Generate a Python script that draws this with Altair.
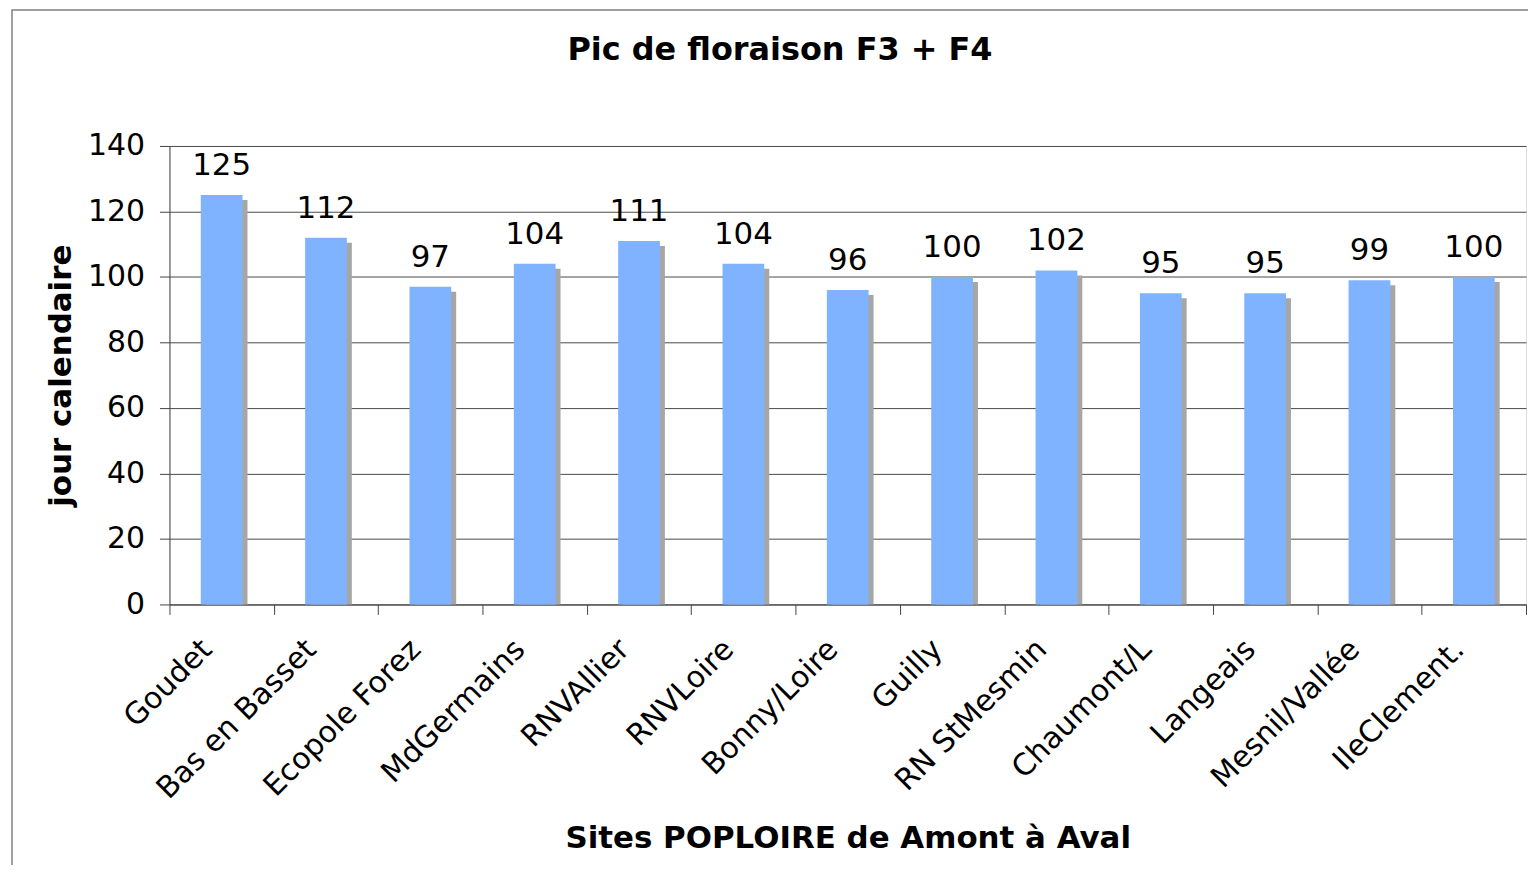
import altair as alt
import pandas as pd

sites = ["Goudet", "Bas en Basset", "Ecopole Forez", "MdGermains", "RNVAllier",
         "RNVLoire", "Bonny/Loire", "Guilly", "RN StMesmin", "Chaumont/L",
         "Langeais", "Mesnil/Vallée", "IleClement."]
jours = [125, 112, 97, 104, 111, 104, 96, 100, 102, 95, 95, 99, 100]
y_ticks = [0, 20, 40, 60, 80, 100, 120, 140]

df = pd.DataFrame({"site": sites, "jour": jours})

FONT = "DejaVu Sans"

x_enc = alt.X(
    "site:N", sort=None, title="Sites POPLOIRE de Amont à Aval",
    scale=alt.Scale(paddingInner=0, paddingOuter=0),
    axis=alt.Axis(labelAngle=-45, labelAlign="right", labelBaseline="middle",
                  labelFontSize=30, labelPadding=30, labelOffset=-15, labelLimit=0,
                  labelFont=FONT, labelColor="black",
                  labelOverlap=False, tickBand="extent", tickSize=10, tickColor="#444",
                  domainColor="#444", grid=False,
                  titleFontSize=31, titleFont=FONT, titleFontWeight="bold", titleColor="black",
                  titleY=235, titleBaseline="middle"))
y_enc = alt.Y(
    "jour:Q", title="jour calendaire",
    scale=alt.Scale(domain=[0, 140], nice=False),
    axis=alt.Axis(values=y_ticks, labelFontSize=30, labelFont=FONT, labelColor="black",
                  labelPadding=15, tickSize=10, tickColor="#444", domainColor="#444",
                  grid=True, gridColor="#4a4a4a", gridWidth=1,
                  titleFontSize=31, titleFont=FONT, titleFontWeight="bold", titleColor="black",
                  titleX=-108, titleY=230, titleAngle=-90, titleAlign="center",
                  titleBaseline="middle"))

base = alt.Chart(df).encode(x=x_enc, y=y_enc)

shadow = base.mark_bar(color="#a6a6a6", xOffset=5, yOffset=5, y2Offset=5,
                       width={"band": 0.4}, clip=True)
bars = base.mark_bar(color="#80b3ff", width={"band": 0.4})
labels = base.mark_text(font=FONT, fontSize=31, color="black", baseline="alphabetic",
                        dy=-20).encode(text="jour:Q")

border = alt.Chart(alt.Data(values=[{}])).mark_rect(
    fill="transparent", stroke="#808080", strokeWidth=1.5
).encode(x=alt.value(-158), x2=alt.value(1500), y=alt.value(-136.5), y2=alt.value(900))

chart = alt.layer(border, shadow, bars, labels).properties(
    width=1361, height=460,
    title=alt.TitleParams("Pic de floraison F3 + F4", font=FONT, fontSize=32,
                          fontWeight="bold", color="black", anchor="middle", dx=-68,
                          offset=-58),
    autosize=alt.AutoSizeParams(type="none"),
    padding={"left": 162, "top": 137, "right": 2, "bottom": 260},
).configure_view(fill="#d4d4d4", stroke="#8c8c8c", strokeWidth=2
).configure(background="white")

chart.save("out.html", embed_options={"renderer": "svg", "actions": False})
